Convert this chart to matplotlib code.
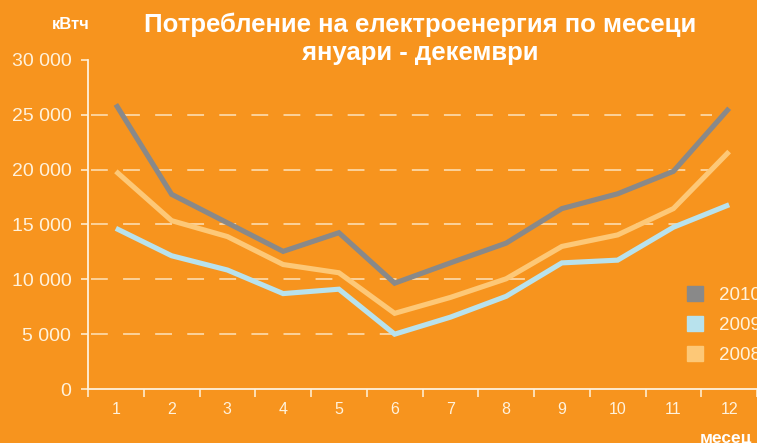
import matplotlib
matplotlib.use('Agg')
import matplotlib.pyplot as plt
from matplotlib.patches import Patch
import numpy as np

plt.rcParams['font.family'] = ['Liberation Sans', 'DejaVu Sans']

# Data
months = np.arange(1, 13)
y2010 = [25950, 17750, 15150, 12550, 14250, 9650, 11500, 13300, 16450, 17800, 19850, 25600]
y2009 = [14650, 12150, 10850, 8700, 9100, 5000, 6550, 8450, 11500, 11750, 14750, 16800]
y2008 = [19850, 15350, 13900, 11350, 10600, 6900, 8350, 10050, 13000, 14050, 16450, 21650]
series_labels = ['2010', '2009', '2008']
yticks = [0, 5000, 10000, 15000, 20000, 25000, 30000]
ytick_labels = ['0', '5 000', '10 000', '15 000', '20 000', '25 000', '30 000']

bg = '#f7941e'
c2010 = '#898989'
c2009 = '#b8e2ed'
c2008 = '#fdc877'
light = '#fff2dc'
grid_c = '#fde3bd'

W, H = 757, 443
fig = plt.figure(figsize=(W / 100, H / 100), dpi=100, facecolor=bg)

# axes placement in pixels
x0, y_base, y_top = 88, 389, 60
px_per_unit = 56
xmin = 1 - 25 / px_per_unit
xmax = 12.6
ax_w = (xmax - xmin) * px_per_unit
ax = fig.add_axes([x0 / W, (H - y_base) / H, ax_w / W, (y_base - y_top) / H])
ax.set_facecolor(bg)
ax.set_xlim(xmin, xmax)
ax.set_ylim(0, 30000)

# dashed grid lines
for v in yticks[1:-1]:
    ax.plot([xmin, 11.7], [v, v], color=grid_c, lw=1.1, ls=(0, (11, 10)), zorder=1)

# the area right of month 6 under the 2009 line hides the grid in the original
m = months >= 6
ax.fill_between(months[m], 0, np.array(y2009)[m], color=bg, lw=0, zorder=1.5)

lw = 3.7
ax.plot(months, y2008, color=c2008, lw=lw, solid_joinstyle='miter', solid_capstyle='butt', zorder=3)
ax.plot(months, y2009, color=c2009, lw=lw, solid_joinstyle='miter', solid_capstyle='butt', zorder=3)
ax.plot(months, y2010, color=c2010, lw=lw, solid_joinstyle='miter', solid_capstyle='butt', zorder=4)

# spines
for s in ['top', 'right']:
    ax.spines[s].set_visible(False)
for s in ['left', 'bottom']:
    ax.spines[s].set_color(light)
    ax.spines[s].set_linewidth(1.3)

ax.set_yticks(yticks)
ax.set_yticklabels(ytick_labels)
ax.tick_params(axis='y', colors=light, labelsize=14, length=5, width=1.1, pad=7)

# x: ticks between months, labels centered on months
ax.set_xticks(np.arange(0.5, 13, 1))
ax.set_xticklabels([])
ax.set_xticks(months, minor=True)
ax.set_xticklabels([str(k) for k in months], minor=True)
ax.tick_params(axis='x', which='major', colors=light, length=6, width=1.1)
ax.tick_params(axis='x', which='minor', length=0, labelsize=11.5, labelcolor=light, pad=9)

# legend
handles = [Patch(color=c2010), Patch(color=c2009), Patch(color=c2008)]
leg = fig.legend(handles, series_labels, loc='upper left',
                 bbox_to_anchor=(687 / W, 1 - 286 / H), frameon=False,
                 fontsize=13.5, handlelength=0.85, handleheight=0.85,
                 handletextpad=0.85, labelspacing=0.64, borderpad=0, borderaxespad=0)
for t in leg.get_texts():
    t.set_color(light)

# titles
fig.text(420 / W, 1 - 32 / H, 'Потребление на електроенергия по месеци',
         ha='center', va='baseline', color='white', fontsize=18.5, fontweight='bold')
fig.text(420 / W, 1 - 60 / H, 'януари - декември',
         ha='center', va='baseline', color='white', fontsize=18.5, fontweight='bold')
fig.text(52 / W, 1 - 29 / H, 'кВтч', ha='left', va='baseline', color='white',
         fontsize=12, fontweight='bold')
fig.text(700 / W, 1 - 443 / H, 'месец', ha='left', va='baseline', color='white',
         fontsize=12.5, fontweight='bold')

fig.savefig('out.png', dpi=100, facecolor=bg)
